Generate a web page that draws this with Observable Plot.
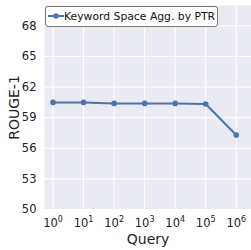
<!DOCTYPE html>
<html><head><meta charset="utf-8">
<script src="https://cdn.jsdelivr.net/npm/d3@7"></script>
<script src="https://cdn.jsdelivr.net/npm/@observablehq/plot@0.6"></script>
<style>
body{margin:0;background:#fff;font-family:"DejaVu Sans",sans-serif;}
#wrap{position:relative;width:251px;height:250px;}
#legend{position:absolute;left:45px;top:6px;width:171px;height:19px;border:1px solid #777;border-radius:3px;background:rgba(255,255,255,0.9);font-size:10.8px;line-height:19px;color:#111;white-space:nowrap;}
#legend svg{position:absolute;left:2px;top:4px;}
#legend span{position:absolute;left:18px;top:0;}
</style></head>
<body><div id="wrap"></div>
<script>
const queries = [1, 10, 100, 1000, 10000, 100000, 1000000];
const rouge = [60.5, 60.5, 60.4, 60.4, 60.4, 60.35, 57.3];
const yTicks = [50, 53, 56, 59, 62, 65, 68];
const seriesName = "Keyword Space Agg. by PTR";
const color = "#4C72B0";

const expOf = d => String(Math.round(Math.log10(d)));
const fmt = d => "10^" + expOf(d);
const data = queries.map((q, i) => ({q, r: rouge[i]}));

const chart = Plot.plot({
  width: 251, height: 250,
  marginTop: 5, marginBottom: 41, marginLeft: 44, marginRight: 0,
  style: {fontFamily: "DejaVu Sans, sans-serif", fontSize: "11px", color: "#222", background: "transparent"},
  x: {type: "log", domain: [Math.pow(10, -0.28), Math.pow(10, 6.5)]},
  y: {domain: [50, 70]},
  marks: [
    Plot.frame({fill: "#EAEAF2", stroke: null}),
    Plot.gridX(queries, {stroke: "white", strokeOpacity: 1, strokeWidth: 1}),
    Plot.gridY(yTicks, {stroke: "white", strokeOpacity: 1, strokeWidth: 1}),
    Plot.axisX(queries, {tickFormat: fmt, tickSize: 0, tickPadding: 9, fontSize: 11.5, label: "Query", labelAnchor: "center", labelArrow: "none", labelOffset: 34}),
    Plot.axisY(yTicks, {tickSize: 0, tickPadding: 8, fontSize: 11.5, label: "ROUGE-1", labelAnchor: "center", labelArrow: "none", labelOffset: 35}),
    Plot.line(data, {x: "q", y: "r", stroke: color, strokeWidth: 2}),
    Plot.dot(data, {x: "q", y: "r", fill: color, r: 2.8})
  ]
});
chart.querySelectorAll("g[aria-label='x-axis label'] text, g[aria-label='y-axis label'] text").forEach(t => t.setAttribute("font-size", "14px"));
chart.querySelectorAll("g[aria-label='x-axis tick label'] text").forEach(t => {
  const s = t.textContent;
  if (s.startsWith("10^")) {
    const e = s.slice(3);
    t.textContent = "10";
    const ts = document.createElementNS("http://www.w3.org/2000/svg", "tspan");
    ts.setAttribute("dy", "-5");
    ts.setAttribute("font-size", "8px");
    ts.textContent = e;
    t.appendChild(ts);
  }
});
const wrap = document.getElementById("wrap");
wrap.appendChild(chart);
const leg = document.createElement("div");
leg.id = "legend";
leg.innerHTML = `<svg width="16" height="10"><line x1="0" y1="5" x2="16" y2="5" stroke="${color}" stroke-width="2"/><circle cx="8" cy="5" r="2.8" fill="${color}"/></svg><span>${seriesName}</span>`;
wrap.appendChild(leg);
</script></body></html>
